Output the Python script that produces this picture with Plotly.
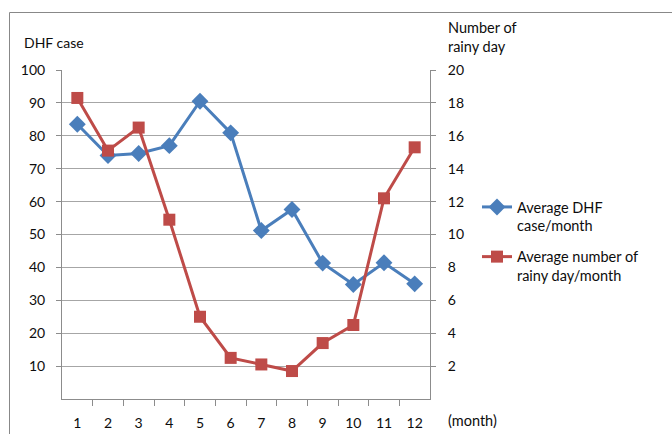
import plotly.graph_objects as go

months = [1, 2, 3, 4, 5, 6, 7, 8, 9, 10, 11, 12]
month_labels = ["1", "2", "3", "4", "5", "6", "7", "8", "9", "10", "11", "12"]
dhf_cases = [83.5, 74.0, 74.6, 77.0, 90.5, 80.9, 51.2, 57.6, 41.3, 34.8, 41.4, 35.0]
rainy_days = [18.3, 15.1, 16.5, 10.9, 5.0, 2.5, 2.1, 1.7, 3.4, 4.5, 12.2, 15.3]
left_ticks = [10, 20, 30, 40, 50, 60, 70, 80, 90, 100]
right_ticks = [2, 4, 6, 8, 10, 12, 14, 16, 18, 20]

BLUE = "#4a7ebb"
RED = "#be4b48"
FONT = "Lato"
TXT = "#0d0d0d"
GRID = "#a6a6a6"
AXIS = "#8c8c8c"

fig = go.Figure()
fig.add_trace(go.Scatter(
    x=months, y=dhf_cases, name="Average DHF<br>case/month", legendgroup="a",
    mode="lines+markers", line=dict(color=BLUE, width=3),
    marker=dict(symbol="diamond", size=13, color=BLUE), yaxis="y"))
fig.add_trace(go.Scatter(
    x=months, y=rainy_days, name="Average number of<br>rainy day/month", legendgroup="b",
    mode="lines+markers", line=dict(color=RED, width=3),
    marker=dict(symbol="square", size=12, color=RED), yaxis="y2"))

L, R, T, B = 62, 242, 70, 35
W, H = 672, 434
pw = W - L - R
ph = H - T - B

def px_x(x):
    return (x - L) / pw

def px_y(y):
    return (H - B - y) / ph

boundaries = [m + 0.5 for m in months[:-1]]

fig.update_layout(
    width=W, height=H,
    margin=dict(l=L, r=R, t=T, b=B, pad=0, autoexpand=False),
    paper_bgcolor="white", plot_bgcolor="white",
    font=dict(family=FONT, size=14, color=TXT),
    showlegend=True,
    legend=dict(x=px_x(477), y=px_y(191), xanchor="left", yanchor="top",
                font=dict(family=FONT, size=14.5, color=TXT),
                itemwidth=30, valign="top", traceorder="grouped",
                tracegroupgap=9, bgcolor="rgba(0,0,0,0)"),
    xaxis=dict(range=[0.5, 12.5], tickvals=boundaries,
               ticktext=[""] * len(boundaries), showgrid=False,
               showline=True, linecolor=AXIS, linewidth=1, zeroline=False,
               ticks="outside", ticklen=6, tickcolor=AXIS, fixedrange=True,
               automargin=False),
    xaxis2=dict(range=[0.5, 12.5], overlaying="x", side="bottom",
                tickvals=months, ticktext=month_labels, ticks="",
                showline=False, showgrid=False, zeroline=False,
                ticklabelstandoff=14, matches="x", automargin=False,
                tickfont=dict(family=FONT, size=14, color=TXT)),
    yaxis=dict(range=[0, 100], tickvals=left_ticks, showgrid=True,
               gridcolor=GRID, gridwidth=1, showline=True, linecolor=AXIS,
               ticks="outside", ticklen=5, tickcolor=AXIS,
               ticklabelstandoff=8, zeroline=False, automargin=False,
               tickfont=dict(family=FONT, size=14, color=TXT)),
    yaxis2=dict(range=[0, 20], tickvals=right_ticks, overlaying="y",
                side="right", showgrid=False, showline=True, linecolor=AXIS,
                ticks="outside", ticklen=5, tickcolor=AXIS,
                ticklabelstandoff=9, zeroline=False, automargin=False,
                tickfont=dict(family=FONT, size=14, color=TXT)),
)

# invisible helper trace so the label axis is rendered
fig.add_trace(go.Scatter(x=months, y=[None] * len(months), xaxis="x2",
                         showlegend=False, hoverinfo="skip"))

fig.add_shape(type="rect", xref="paper", yref="paper",
              x0=px_x(9.5), x1=px_x(700), y0=px_y(12.5), y1=px_y(460),
              line=dict(color="#888888", width=1), fillcolor="rgba(0,0,0,0)",
              layer="below")

fig.add_annotation(text="DHF case", xref="paper", yref="paper",
                   x=px_x(22), y=px_y(42), xanchor="left", yanchor="middle",
                   showarrow=False, font=dict(family=FONT, size=14, color=TXT))
fig.add_annotation(text="Number of<br>rainy day", xref="paper", yref="paper",
                   x=px_x(446), y=px_y(37), xanchor="left", yanchor="middle",
                   align="left", showarrow=False,
                   font=dict(family=FONT, size=14.5, color=TXT))
fig.add_annotation(text="(month)", xref="paper", yref="paper",
                   x=px_x(446), y=px_y(420), xanchor="left", yanchor="middle",
                   showarrow=False, font=dict(family=FONT, size=14.5, color=TXT))

fig.write_html("out.html", config={"displayModeBar": False},
               post_script="document.body.style.margin='0';document.body.style.padding='0';")
